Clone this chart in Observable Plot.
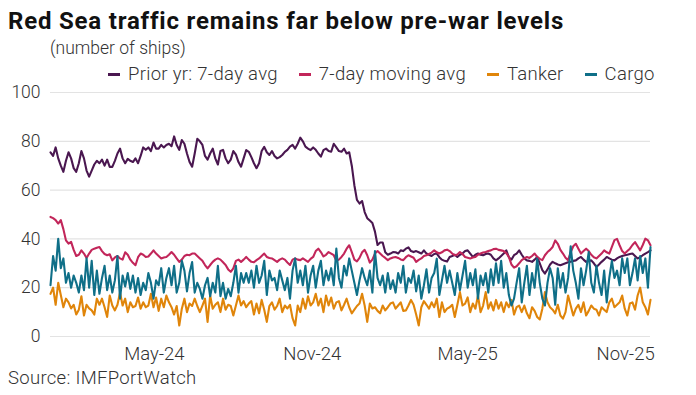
<!DOCTYPE html>
<html>
<head>
<meta charset="utf-8">
<script src="https://cdn.jsdelivr.net/npm/d3@7"></script>
<script src="https://cdn.jsdelivr.net/npm/@observablehq/plot@0.6"></script>
<style>
  body { margin: 0; background: #fff; }
  #wrap { position: relative; width: 696px; height: 395px; overflow: hidden; font-family: Roboto, "Noto Sans", sans-serif; color: #222; }
  #title { position: absolute; left: 8px; top: 7px; font-size: 24px; line-height: 28px; font-weight: 700; color: #111; white-space: nowrap; letter-spacing: 0.8px; }
  #sub { position: absolute; left: 50px; top: 37px; font-size: 17.5px; line-height: 22px; font-weight: 300; color: #333; white-space: nowrap; }
  #legend { position: absolute; left: 108px; top: 63px; font-size: 18.5px; line-height: 22px; font-weight: 300; color: #333; white-space: nowrap; display: flex; letter-spacing: 0.3px; }
  .item { display: flex; align-items: center; margin-right: 21px; }
  .sw { display: inline-block; width: 12px; height: 3px; margin-right: 8px; }
  #chart { position: absolute; left: 0; top: 80px; }
  #source { position: absolute; left: 8px; top: 367px; font-size: 18.5px; line-height: 22px; font-weight: 300; color: #333; white-space: nowrap; letter-spacing: 0.3px; }
</style>
</head>
<body>
<div id="wrap">
  <div id="title">Red Sea traffic remains far below pre-war levels</div>
  <div id="sub">(number of ships)</div>
  <div id="legend"></div>
  <div id="chart"></div>
  <div id="source">Source: IMFPortWatch</div>
</div>
<script>
// Series names and colours
const seriesNames = ["Prior yr: 7-day avg", "7-day moving avg", "Tanker", "Cargo"];
const seriesColors = ["#4a1750", "#c2265a", "#e0850a", "#0f6f88"];

// Observations every 3 days starting 2024-01-01
const startDate = "2024-01-01";
const stepDays = 3;

const priorYr = [
75.5,74,77.5,73,70,67.5,72,75.5,73,69,
67.5,71,76,73,68,65.5,68,70.5,72,71,
72.5,70,72.5,69.5,69.5,72,75,77,73,71,
72.8,72,71.5,73,71,74,77.5,76.5,77.5,76,
79.5,77,77,78.5,77.5,78.5,79,78,82,78.5,
76.5,80.5,79,75,71.5,69.6,75,81,80,78.5,
74,72.5,75,77,73,70.5,76,76.5,73,71,
72.5,76,74.5,71.5,69.6,73,76.4,75.7,73.5,71,
69,71,76,77.7,75.5,74.4,76,74,73,73.5,
74.4,75.7,76.5,77.8,78.5,77,79,81.5,80,77.8,
77,76.4,77.5,76.5,75,73.7,76.4,77,76,75.7,
79,77.5,76,75.7,77,75,75.5,70,62,56,
54.5,55.5,51,48.5,47.5,46.5,43,37.5,38.5,38.5,
34.5,33.5,34,34.6,34.5,34,35.3,35,36,36.5,
35,34.6,35,34.5,34,35.3,34,33.5,33,33.8,
34,32.5,31.5,31,30.7,32.6,33,33.5,32.6,33.5,
34,35,35.3,34,32.6,33.5,34,33.5,33.3,33.8,
34,33.5,32,31.2,32,33,34,35.3,32.5,31.5,
33.3,34,35.3,33.5,32,31.2,31,30.6,31.5,32.6,
30,27.2,25.8,27.5,29.5,30.6,30,29.5,29.2,29.6,
30,30.4,30.6,31,31.2,32,32.6,31.5,30.6,31,
31.2,30,28.5,29.5,30.6,31.5,32.6,32,31.5,31.2,
32,32.6,33,33.3,33.5,33.8,34,33,32,32.5,
33.3,34,34.6,35.3
];

const movingAvg = [
49,48.5,47.7,46.3,47.7,44,39.4,38.1,38.8,35.5,
33,33.5,35.3,34,32.2,34,35.5,36,36.4,36.7,
35,33.8,33.3,33.7,31.2,32.4,33,32,31.5,34.5,
33.5,31.5,30.2,29.2,32.5,34,33.5,32.6,32.8,34,
35.3,34,33,32,32.4,32.6,33.5,34.6,33.5,32,
30.6,31.5,33,33.5,33.3,34,34,33,32,31,
29.3,27.9,29.3,30.6,31.5,32,31.5,30.4,29.3,27.5,
26.5,27.9,31,31.5,30.6,31.5,32.6,31.5,30.6,30.4,
31.3,32,33,34,32.6,32.2,32,31.3,30.6,31.5,
32,31.5,30.3,29.3,31.5,32,31.5,31.3,32,31.3,
30.6,31.8,32.6,35,36,34.6,32.8,33.5,34.6,34,
33.3,31,31.5,32.6,34,36,37.4,34.6,31.5,30.8,
32.2,34.5,35.5,33.3,30.3,31.5,34,35,34,33,
32.2,31.3,32,32.4,32.6,32.2,31.6,31.3,32.5,33.3,
32.8,32.3,30.6,31.4,32,33,33.3,33.8,34.4,35.3,
34.5,34,34.5,35.3,35.6,35,34,33.3,33.6,34.6,
33.8,32.6,32.3,32,32.4,32.6,33.5,34,34.4,34.6,
35,35.3,35.8,36,35.5,35.3,35,34.2,32.6,29.5,
28.2,28.8,30,31.3,32,32.6,32.2,33,34,32.6,
31.8,31.3,33.3,34.6,35.5,36.7,39.4,38,35.5,34,
32.3,31.3,34.5,37,38,36,34,35,36,35,
33.5,32.5,32,33,34,35.3,34.5,34,36.7,39.5,
40,37.4,35,34,35,36,37.5,38.7,37,35.3,
37.5,40.1,39.4,37.4
];

const tanker = [
17.5,20,13,22,17,12,15.5,14,11.5,13,
9,11,16.5,8.6,13,11.5,10.7,9,15.5,13,
15.5,12,8,16.8,12.7,10.7,13,18,12.7,15.5,
10,14,12,12.5,16,11.4,14,12,12.7,17.5,
12,16,10.5,15.5,12,16.8,14,12,9,12.5,
4.5,11.4,15.5,10,13.5,12.5,15.5,12.5,10,12.7,
15.5,6,16.8,11.4,13,14,10,15.5,11,13,
12.5,8.6,12.7,16.8,12.7,14.5,12,13.5,14.5,9,
13.5,9.5,15,11,6,12.5,14,11,12.5,15.5,
10,12.7,11.5,13,7.5,4.5,12.7,10,15.5,11.4,
16.5,12.7,14,17.5,12.7,15.5,10,16.8,12.7,16,
11.4,14,14.5,10.7,13,15.5,12,9.5,11,12.5,
13.5,17.5,12.7,6,13.5,11.5,12,10.5,9.5,12.7,
10.7,12,13.5,14,11.4,12.7,14,10.5,10.7,12.7,
15,13,9,4.5,12,14.5,13,11.4,14,12,
15.5,8,14,10,11.4,12,13,8,13,18.2,
12.7,13.5,16,10,13.5,11.4,16.8,10,12.7,18.2,
11.4,14,10.7,15,11.4,14,10,14,12,15,
9,12,12.7,10,12.7,9.5,7.5,12,10.5,8,
7,11.4,18.2,14,12,11,9.5,13,8.6,7.3,
10,16.8,12.7,8.6,11.4,13,10,14,8.6,10.5,
12.7,11.4,11,8.6,12,11,10,14,15.5,12,
13,14,16.8,11.4,8.6,13.5,14,11,16.8,20,
14,12,9,15
];

const cargo = [
21,33,27,40,28,32,22,26,20,25,
22,18,25,19,32,20,31,17,27,17.5,
24,29,19,25,18,23,33,15.5,25,20.5,
26,19.5,25,18,24,17,22,19,26,22,
15.5,23,21,28,18,24,28,21,29,18,
22,31,27,18.5,26,30.5,18,22,19.5,15.5,
21,24,16.5,22,18,29,16.5,22,15.5,19.5,
16.5,22,29,18,26,22,26,22,27,20,
29,22,25,31,17,27,23,24,19,27,
23,19,24,15.5,27,32,22,27,21,29,
18,25,29,20,27,31,21,27,23,28,
21,36,24,20,29,25,32,27,22,17,
23,28,24,21,27,18,35,24,21,25,
18,26,19.5,23,18,26,22,29,18,24,
22,27,18.5,25,15.5,21,27.5,18,24,26,
31.9,17,23,29,22,27,22,17,26,19,
25,31,20,26,21,27.5,15.5,25,21,26,
18,27.5,21,30,22,31,20,26,17,12.7,
15.5,22,28,14,22,29,17,26,20,31.9,
22,15.5,12.7,22,28,24,13,28,20,26,
18,24,37,27,22,15.5,28,21,27,34.6,
22,18,29,22,17,27,14,24,31,24,
27,21,32,26,32,21,26,32,23,33,
26,32,20,36.7
];

const seriesValues = [priorYr, movingAvg, tanker, cargo];

// Axis ticks
const xTickDates = ["2024-05-01", "2024-11-01", "2025-05-01", "2025-11-01"];
const yTicks = [0, 20, 40, 60, 80, 100];

const start = new Date(startDate + "T00:00:00Z");
const rows = [];
seriesNames.forEach((name, s) => {
  seriesValues[s].forEach((v, i) => {
    rows.push({ series: name, date: d3.utcDay.offset(start, i * stepDays), value: v });
  });
});
const lastDate = d3.utcDay.offset(start, (priorYr.length - 1) * stepDays);

// Legend
const legend = document.getElementById("legend");
seriesNames.forEach((name, s) => {
  const it = document.createElement("span");
  it.className = "item";
  const sw = document.createElement("span");
  sw.className = "sw";
  sw.style.background = seriesColors[s];
  it.appendChild(sw);
  it.appendChild(document.createTextNode(name));
  legend.appendChild(it);
});

const chart = Plot.plot({
  width: 696,
  height: 288,
  marginLeft: 50,
  marginRight: 46,
  marginTop: 12,
  marginBottom: 32,
  style: { fontFamily: "Roboto, 'Noto Sans', sans-serif", fontSize: "17px", color: "#333", background: "transparent", fontWeight: 300, overflow: "visible" },
  x: { type: "utc", domain: [start, lastDate], label: null },
  y: { domain: [0, 100], label: null },
  color: { domain: seriesNames, range: seriesColors },
  marks: [
    Plot.gridY(yTicks, { stroke: "#e3e3e3", strokeOpacity: 1, strokeWidth: 1.2 }),
    Plot.axisY(yTicks, { tickSize: 0, tickPadding: 10, label: null, fontSize: 17.5 }),
    Plot.axisX(xTickDates.map(d => new Date(d + "T00:00:00Z")), { tickSize: 0, tickPadding: 10, tickFormat: d3.utcFormat("%b-%y"), label: null, fontSize: 18.5, style: "letter-spacing:0.6px" }),
    Plot.lineY(rows, { x: "date", y: "value", z: "series", stroke: "series", strokeWidth: 2.1, strokeLinejoin: "round" })
  ]
});
document.getElementById("chart").appendChild(chart);
</script>
</body>
</html>
